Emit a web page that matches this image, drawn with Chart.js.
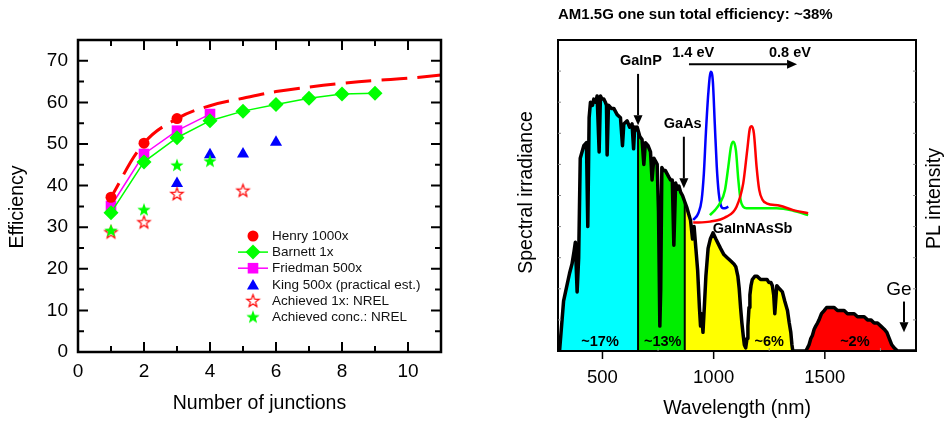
<!DOCTYPE html>
<html>
<head>
<meta charset="utf-8">
<script src="https://cdn.jsdelivr.net/npm/chart.js@4.4.1/dist/chart.umd.min.js"></script>
<style>
  html, body { margin: 0; padding: 0; background: #fff; }
  #left { position: absolute; left: 0; top: 0; width: 480px; height: 421px; }
  #right { position: absolute; left: 484px; top: 0; width: 460px; height: 421px; }
</style>
</head>
<body>
<div id="left"><canvas id="effChart"></canvas></div>
<div id="right"><canvas id="specChart"></canvas></div>
<script>
// ---------- left panel: efficiency vs number of junctions ----------
const henryN = [1, 2, 3];
const henryEff = [37.2, 50.2, 56.1];
const henryTrendN = [1, 2, 3, 4, 5, 6, 7, 8, 9, 10, 11];
const henryTrendEff = [37.2, 50.2, 56.1, 59.2, 61.0, 62.6, 63.7, 64.6, 65.3, 65.8, 66.6];
const barnettN = [1, 2, 3, 4, 5, 6, 7, 8, 9];
const barnettEff = [33.5, 45.7, 51.5, 55.6, 57.9, 59.5, 61.0, 62.0, 62.2];
const friedmanN = [1, 2, 3, 4];
const friedmanEff = [35.1, 47.6, 53.2, 57.2];
const kingN = [3, 4, 5, 6];
const kingEff = [40.5, 47.4, 47.6, 50.4];
const nrel1xN = [1, 2, 3, 5];
const nrel1xEff = [28.9, 31.3, 38.1, 38.9];
const nrelConcN = [1, 2, 3, 4];
const nrelConcEff = [29.3, 34.3, 45.0, 46.0];
const junctionTicks = [0, 2, 4, 6, 8, 10];
const efficiencyTicks = [0, 10, 20, 30, 40, 50, 60, 70];

// ---------- right panel: AM1.5G spectrum + PL ----------
const wavelengthNm = [
  307, 325, 340, 352, 363, 372, 378, 386, 393, 400,
  408, 416, 428, 434, 440, 446, 455, 461, 470, 476,
  485, 491, 498, 506, 513, 518, 521, 527, 540, 551,
  566, 581, 590, 596, 611, 622, 633, 640, 645, 650,
  656, 660, 668, 678, 686, 693, 705, 716, 723, 731,
  739, 746, 752, 758, 762, 767, 775, 783, 798, 806,
  814, 821, 829, 837, 844, 852, 860, 870, 880, 888,
  896, 905, 912, 920, 928, 936, 941, 946, 952, 958,
  965, 975, 985, 997, 1010, 1031, 1046, 1061, 1076, 1091,
  1100, 1109, 1115, 1121, 1127, 1133, 1138, 1144, 1150, 1154,
  1159, 1163, 1168, 1174, 1185, 1196, 1211, 1226, 1240, 1249,
  1258, 1264, 1270, 1275, 1280, 1284, 1296, 1309, 1320, 1332,
  1340, 1347, 1352, 1356, 1414, 1422, 1429, 1437, 1444, 1452,
  1459, 1467, 1474, 1485, 1497, 1508, 1519, 1530, 1542, 1557,
  1572, 1587, 1602, 1617, 1632, 1647, 1662, 1677, 1692, 1707,
  1722, 1737, 1752, 1767, 1779, 1790, 1801, 1812, 1820, 1827, 1910
];
const irradiance = [
  0, 16, 21, 25, 28, 32, 35, 19, 30, 62,
  64, 66, 67, 40, 75, 80, 79, 81, 80, 82,
  64, 82, 81, 81, 80, 79, 63, 79, 78, 78,
  76, 75, 66, 73, 74, 72, 73, 65, 72, 71,
  72, 71, 69, 68, 60, 67, 66, 64, 55, 62,
  61, 60, 45, 8, 20, 59, 58, 58, 56, 55,
  55, 34, 54, 52, 53, 51, 50, 48, 46, 44,
  42, 36, 40, 33, 26, 14, 8, 12, 6, 14,
  24, 33, 36, 38, 36, 33, 31, 30, 29, 28,
  27, 24, 20, 14, 9, 5, 2, 1, 4, 8,
  14, 18, 21, 23, 24, 24, 23, 23, 23, 22,
  22, 21, 18, 12, 17, 21, 20, 19, 16, 13,
  9, 6, 2, 0, 0, 1, 2, 4, 5, 7,
  8, 9, 10, 12, 13, 14, 14, 14, 14, 13,
  13, 13, 12, 12, 12, 11, 11, 11, 10, 10,
  9, 9, 8, 7, 6, 4, 2, 1, 0.5, 0, 0
];
const bandEdgesNm = [300, 660, 870, 1414, 1910];
const bandColors = ["#00ffff", "#00ee00", "#ffff00", "#ff0000"];
const bandLabels = ["~17%", "~13%", "~6%", "~2%"];
const bandLabelNm = [489, 771, 1250, 1635];
const wavelengthTicks = [500, 1000, 1500];

const plBlueNm = [908, 931, 946, 956, 965, 976, 987, 996, 1005, 1014, 1023, 1032, 1043, 1055, 1066];
const plBlueI = [42.1, 44.3, 48.6, 57.1, 70, 82.9, 89.8, 87.1, 73.2, 59.3, 50.7, 46.9, 45.9, 46, 46.4];
const plGreenNm = [983, 1006, 1028, 1051, 1066, 1078, 1088, 1100, 1111, 1121, 1133, 1148, 1208, 1283, 1358, 1425];
const plGreenI = [43.7, 45.3, 47.5, 51.8, 59.3, 65.7, 67.3, 64.6, 55, 48.6, 46.4, 45.9, 45.9, 45.9, 45.1, 43.7];
const plRedNm = [908, 983, 1058, 1103, 1133, 1151, 1163, 1171, 1181, 1193, 1205, 1220, 1238, 1298, 1358, 1425];
const plRedI = [41.3, 41.6, 43.2, 46.4, 53.9, 64.6, 71.6, 72.3, 70, 59.3, 51.8, 48.6, 47.5, 46.7, 45.3, 44.3];

const FONT = "'Liberation Sans', Arial, sans-serif";
Chart.defaults.font.family = FONT;
Chart.defaults.color = "#000";

const pts = (xs, ys) => xs.map((x, i) => ({ x: x, y: ys[i] }));
const fixedTicks = (values) => (s) => { s.ticks = values.map((v) => ({ value: v })); };

function starPath(g, cx, cy, r) {
  g.beginPath();
  for (let i = 0; i < 10; i++) {
    const rad = i % 2 ? r * 0.42 : r;
    const a = -Math.PI / 2 + (i * Math.PI) / 5;
    g.lineTo(cx + rad * Math.cos(a), cy + rad * Math.sin(a));
  }
  g.closePath();
}

function makeStar(fill, stroke, r) {
  const c = document.createElement("canvas");
  const s = Math.ceil(r * 2 + 4);
  c.width = s;
  c.height = s;
  const g = c.getContext("2d");
  starPath(g, s / 2, s / 2 + 0.8, r);
  g.fillStyle = fill;
  g.fill();
  if (stroke) {
    g.lineWidth = 1.2;
    g.strokeStyle = stroke;
    g.stroke();
  }
  return c;
}

const openRedStar = makeStar("#ffffff", "#ff0000", 6.5);
const greenStar = makeStar("#00ff00", null, 7);

function drawMarker(ctx, style, x, y, r, color) {
  if (style instanceof HTMLCanvasElement) {
    ctx.drawImage(style, x - style.width / 2, y - style.height / 2);
    return;
  }
  ctx.save();
  ctx.fillStyle = color;
  ctx.beginPath();
  if (style === "circle") {
    ctx.arc(x, y, r, 0, Math.PI * 2);
  } else if (style === "rectRot") {
    ctx.moveTo(x, y - r);
    ctx.lineTo(x + r, y);
    ctx.lineTo(x, y + r);
    ctx.lineTo(x - r, y);
    ctx.closePath();
  } else if (style === "rect") {
    const h = r * Math.SQRT1_2;
    ctx.rect(x - h, y - h, 2 * h, 2 * h);
  } else if (style === "triangle") {
    y += r / 4;
    ctx.moveTo(x, y - r);
    ctx.lineTo(x + r * 0.866, y + r / 2);
    ctx.lineTo(x - r * 0.866, y + r / 2);
    ctx.closePath();
  }
  ctx.fill();
  ctx.restore();
}

// frame with inward ticks on all four sides, plus the rotated y title
const effFrame = {
  id: "effFrame",
  afterDraw(chart) {
    const { ctx, chartArea: a, scales } = chart;
    const xs = scales.x, ys = scales.y;
    const xMajor = xs.ticks.map((t) => t.value);
    const xMinor = xMajor.map((v) => v + 1).filter((v) => v < xs.max);
    const yMajor = ys.ticks.map((t) => t.value);
    const yMinor = yMajor.map((v) => v + 5).filter((v) => v < ys.max);
    ctx.save();
    ctx.strokeStyle = "#000";
    ctx.lineWidth = 2;
    ctx.beginPath();
    const xt = (v, len) => {
      const p = xs.getPixelForValue(v);
      ctx.moveTo(p, a.bottom); ctx.lineTo(p, a.bottom - len);
      ctx.moveTo(p, a.top); ctx.lineTo(p, a.top + len);
    };
    const yt = (v, len) => {
      const p = ys.getPixelForValue(v);
      ctx.moveTo(a.left, p); ctx.lineTo(a.left + len, p);
      ctx.moveTo(a.right, p); ctx.lineTo(a.right - len, p);
    };
    xMajor.forEach((v) => xt(v, 10));
    xMinor.forEach((v) => xt(v, 6));
    yMajor.forEach((v) => yt(v, 10));
    yMinor.forEach((v) => yt(v, 6));
    ctx.stroke();
    ctx.lineWidth = 2.5;
    ctx.strokeRect(a.left, a.top, a.right - a.left, a.bottom - a.top);

    ctx.translate(18, (a.top + a.bottom) / 2 + 11);
    ctx.rotate(-Math.PI / 2);
    ctx.fillStyle = "#000";
    ctx.font = "19.5px " + FONT;
    ctx.textAlign = "center";
    ctx.textBaseline = "middle";
    ctx.fillText("Efficiency", 0, 0);
    ctx.restore();
  },
};

const effLegend = {
  id: "effLegend",
  afterDraw(chart) {
    const { ctx, chartArea: a } = chart;
    const mx = a.left + 175;
    let y = a.top + 196;
    ctx.save();
    ctx.font = "13.5px " + FONT;
    ctx.fillStyle = "#111";
    ctx.textBaseline = "middle";
    chart.data.datasets.forEach((ds) => {
      if (ds.noLegend) return;
      if (ds.showLine) {
        ctx.strokeStyle = ds.borderColor;
        ctx.lineWidth = ds.borderWidth;
        ctx.beginPath();
        ctx.moveTo(mx - 15, y);
        ctx.lineTo(mx + 15, y);
        ctx.stroke();
      }
      drawMarker(ctx, ds.pointStyle, mx, y, ds.pointRadius, ds.pointBackgroundColor);
      ctx.fillStyle = "#111";
      ctx.fillText(ds.label, a.left + 194, y + 0.5);
      y += 16.1;
    });
    ctx.restore();
  },
};

new Chart(document.getElementById("effChart"), {
  type: "line",
  data: {
    datasets: [
      {
        label: "Henry 1000x",
        data: pts(henryN, henryEff),
        showLine: false,
        pointStyle: "circle",
        pointRadius: 5.5,
        pointBackgroundColor: "#ff0000",
        pointBorderWidth: 0,
        order: 3,
      },
      {
        label: "Barnett 1x",
        data: pts(barnettN, barnettEff),
        showLine: true,
        borderColor: "#00ff00",
        borderWidth: 1.5,
        tension: 0,
        pointStyle: "rectRot",
        pointRadius: 7.5,
        pointBackgroundColor: "#00ff00",
        pointBorderWidth: 0,
        order: 4,
      },
      {
        label: "Friedman 500x",
        data: pts(friedmanN, friedmanEff),
        showLine: true,
        borderColor: "#ff00ff",
        borderWidth: 1.5,
        tension: 0,
        pointStyle: "rect",
        pointRadius: 7.5,
        pointBackgroundColor: "#ff00ff",
        pointBorderWidth: 0,
        order: 5,
      },
      {
        label: "King 500x (practical est.)",
        data: pts(kingN, kingEff),
        showLine: false,
        pointStyle: "triangle",
        pointRadius: 7,
        pointBackgroundColor: "#0000ff",
        pointBorderWidth: 0,
        order: 2,
      },
      {
        label: "Achieved 1x: NREL",
        data: pts(nrel1xN, nrel1xEff),
        showLine: false,
        pointStyle: openRedStar,
        pointRadius: 7,
        order: 1,
      },
      {
        label: "Achieved conc.: NREL",
        data: pts(nrelConcN, nrelConcEff),
        showLine: false,
        pointStyle: greenStar,
        pointRadius: 7,
        order: 0,
      },
      {
        label: "Henry trend",
        noLegend: true,
        data: pts(henryTrendN, henryTrendEff),
        showLine: true,
        borderColor: "#ff0000",
        borderWidth: 3,
        borderDash: [26, 10],
        borderDashOffset: 10,
        tension: 0.4,
        pointRadius: 0,
        order: 6,
      },
    ],
  },
  options: {
    responsive: true,
    maintainAspectRatio: false,
    animation: false,
    layout: { padding: { left: 0, right: 39, top: 40, bottom: 0 } },
    plugins: { legend: { display: false }, tooltip: { enabled: false } },
    scales: {
      x: {
        type: "linear",
        min: 0,
        max: 11,
        afterBuildTicks: fixedTicks(junctionTicks),
        afterFit: (s) => { s.height = 69; },
        grid: { display: false, drawTicks: false },
        border: { display: false },
        ticks: { padding: 8, color: "#000", font: { size: 19 } },
        title: {
          display: true,
          text: "Number of junctions",
          color: "#000",
          font: { size: 19.5 },
          padding: { top: 0, bottom: 6 },
        },
      },
      y: {
        min: 0,
        max: 75,
        afterBuildTicks: fixedTicks(efficiencyTicks),
        afterFit: (s) => { s.width = 78; },
        grid: { display: false, drawTicks: false },
        border: { display: false },
        ticks: { padding: 10, color: "#000", font: { size: 19 } },
      },
    },
  },
  plugins: [effFrame, effLegend],
});

// ---------- right chart ----------
const spectrum = pts(wavelengthNm, irradiance);
const bandData = (lo, hi) => spectrum.filter((p) => p.x >= lo && p.x <= hi);
const levelAt = (nm) => irradiance[wavelengthNm.indexOf(nm)];

const textNotes = [
  { text: "GaInP", nm: 673, v: 93.2, bold: true },
  { text: "GaAs", nm: 861, v: 73, bold: true },
  { text: "1.4 eV", nm: 908, v: 95.9, bold: true },
  { text: "0.8 eV", nm: 1343, v: 95.9, bold: true },
  { text: "GaInNAsSb", nm: 1175, v: 39.1, bold: true },
  { text: "Ge", nm: 1833, v: 19.6, bold: false },
];
const downArrows = [
  { nm: 660, from: 89.1, to: 72.6 },
  { nm: 866, from: 68.9, to: 52.3 },
  { nm: 1856, from: 15.9, to: 6.0 },
];
const energyArrow = { from: 889, to: 1375, v: 92.2 };

function drawArrow(ctx, x0, y0, x1, y1) {
  const ang = Math.atan2(y1 - y0, x1 - x0);
  const L = 10, W = 4.5;
  const bx = x1 - L * Math.cos(ang), by = y1 - L * Math.sin(ang);
  ctx.beginPath();
  ctx.moveTo(x0, y0);
  ctx.lineTo(bx, by);
  ctx.stroke();
  ctx.beginPath();
  ctx.moveTo(x1, y1);
  ctx.lineTo(bx - W * Math.sin(ang), by + W * Math.cos(ang));
  ctx.lineTo(bx + W * Math.sin(ang), by - W * Math.cos(ang));
  ctx.closePath();
  ctx.fill();
}

const specNotes = {
  id: "specNotes",
  afterDatasetsDraw(chart) {
    const { ctx, scales: { x, y } } = chart;
    ctx.save();
    ctx.fillStyle = "#000";
    ctx.strokeStyle = "#000";
    ctx.lineWidth = 2;
    ctx.textAlign = "center";
    ctx.textBaseline = "middle";
    textNotes.forEach((n) => {
      ctx.font = n.bold ? "bold 14.5px " + FONT : "19px " + FONT;
      ctx.fillText(n.text, x.getPixelForValue(n.nm), y.getPixelForValue(n.v));
    });
    ctx.font = "bold 14.5px " + FONT;
    bandLabels.forEach((t, i) => {
      ctx.fillText(t, x.getPixelForValue(bandLabelNm[i]), y.getPixelForValue(3));
    });
    downArrows.forEach((d) => {
      const px = x.getPixelForValue(d.nm);
      drawArrow(ctx, px, y.getPixelForValue(d.from), px, y.getPixelForValue(d.to));
    });
    const ey = y.getPixelForValue(energyArrow.v);
    drawArrow(ctx, x.getPixelForValue(energyArrow.from), ey, x.getPixelForValue(energyArrow.to), ey);
    ctx.restore();
  },
};

const specFrame = {
  id: "specFrame",
  afterDraw(chart) {
    const { ctx, chartArea: a, scales: { x, y } } = chart;
    ctx.save();
    ctx.strokeStyle = "#000";
    ctx.lineWidth = 2;
    ctx.strokeRect(a.left, a.top, a.right - a.left, a.bottom - a.top);
    ctx.lineWidth = 1.5;
    ctx.beginPath();
    x.ticks.forEach((t) => {
      const p = x.getPixelForValue(t.value);
      ctx.moveTo(p, a.bottom);
      ctx.lineTo(p, a.bottom + 8);
    });
    ctx.stroke();
    ctx.strokeStyle = "#888";
    ctx.lineWidth = 1;
    ctx.beginPath();
    x.ticks.forEach((t) => {
      const p = x.getPixelForValue(t.value + 250);
      if (p < a.right) {
        ctx.moveTo(p, a.bottom);
        ctx.lineTo(p, a.bottom - 3);
      }
    });
    for (let v = 10; v < 100; v += 10) {
      const p = y.getPixelForValue(v);
      ctx.moveTo(a.left, p); ctx.lineTo(a.left + 3, p);
      ctx.moveTo(a.right, p); ctx.lineTo(a.right - 3, p);
    }
    ctx.stroke();

    ctx.fillStyle = "#000";
    ctx.font = "bold 15px " + FONT;
    ctx.textAlign = "left";
    ctx.textBaseline = "middle";
    ctx.fillText("AM1.5G one sun total efficiency: ~38%", a.left, 15);

    ctx.font = "19.5px " + FONT;
    ctx.textAlign = "center";
    const mid = (a.top + a.bottom) / 2;
    ctx.save();
    ctx.translate(a.left - 31, mid - 3);
    ctx.rotate(-Math.PI / 2);
    ctx.fillText("Spectral irradiance", 0, 0);
    ctx.restore();
    ctx.translate(a.right + 19, mid + 3);
    ctx.rotate(-Math.PI / 2);
    ctx.fillText("PL intensity", 0, 0);
    ctx.restore();
  },
};

const bandSets = bandColors.map((c, i) => ({
  label: "band " + i,
  data: bandData(bandEdgesNm[i], bandEdgesNm[i + 1]),
  fill: "origin",
  backgroundColor: c,
  borderColor: "rgba(0,0,0,0)",
  borderWidth: 0,
  pointRadius: 0,
  tension: 0,
  order: 10,
}));
const edgeSets = bandEdgesNm.slice(1, 3).map((nm) => ({
  label: "edge " + nm,
  data: [{ x: nm, y: 0 }, { x: nm, y: levelAt(nm) }],
  borderColor: "#000",
  borderWidth: 2,
  pointRadius: 0,
  order: 5,
}));

new Chart(document.getElementById("specChart"), {
  type: "line",
  data: {
    datasets: [
      {
        label: "PL 1",
        data: pts(plRedNm, plRedI),
        borderColor: "#ff0000",
        borderWidth: 2.5,
        cubicInterpolationMode: "monotone",
        pointRadius: 0,
        order: 0,
      },
      {
        label: "PL 2",
        data: pts(plGreenNm, plGreenI),
        borderColor: "#00ff00",
        borderWidth: 2.5,
        cubicInterpolationMode: "monotone",
        pointRadius: 0,
        order: 1,
      },
      {
        label: "PL 3",
        data: pts(plBlueNm, plBlueI),
        borderColor: "#0000ff",
        borderWidth: 2.5,
        cubicInterpolationMode: "monotone",
        pointRadius: 0,
        order: 2,
      },
      {
        label: "AM1.5G",
        data: spectrum,
        borderColor: "#000",
        borderWidth: 3.5,
        borderJoinStyle: "round",
        tension: 0,
        pointRadius: 0,
        order: 3,
      },
      ...edgeSets,
      ...bandSets,
    ],
  },
  options: {
    responsive: true,
    maintainAspectRatio: false,
    animation: false,
    layout: { padding: { left: 74, right: 28, top: 40, bottom: 0 } },
    plugins: { legend: { display: false }, tooltip: { enabled: false } },
    scales: {
      x: {
        type: "linear",
        min: 300,
        max: 1910,
        afterBuildTicks: fixedTicks(wavelengthTicks),
        afterFit: (s) => { s.height = 70; },
        grid: { display: false, drawTicks: false },
        border: { display: false },
        ticks: {
          padding: 16,
          maxRotation: 0,
          color: "#000",
          font: { size: 18.5 },
          callback: (v) => String(v),
        },
        title: {
          display: true,
          text: "Wavelength (nm)",
          color: "#000",
          font: { size: 19.5 },
          padding: { top: 0, bottom: 1 },
        },
      },
      y: { display: false, min: 0, max: 100 },
    },
  },
  plugins: [specNotes, specFrame],
});
</script>
</body>
</html>
